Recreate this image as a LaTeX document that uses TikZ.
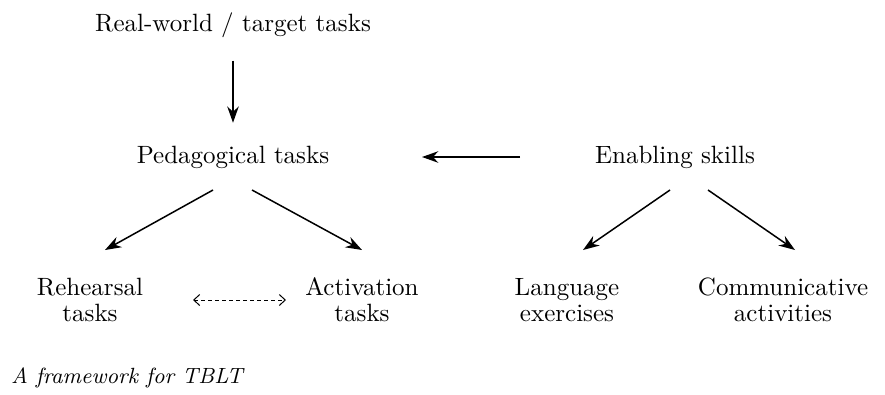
\documentclass[tikz,border=0pt]{standalone}
\usetikzlibrary{arrows.meta,calc,positioning}

\begin{document}
\begin{tikzpicture}[x=0.4pt,y=-0.4pt,
    every node/.style={font=\fontsize{10}{10.5}\selectfont, align=center, inner sep=1pt},
    link/.style={line width=0.6pt, -{Stealth[length=6.5pt,width=4.6pt]}},
    pairlink/.style={line width=0.4pt, dash pattern=on 1.6pt off 1.2pt,
      {Straight Barb[length=2.4pt,width=4.4pt]}-{Straight Barb[length=2.4pt,width=4.4pt]}}]
      \useasboundingbox (0,0) rectangle (885,394);

      % Nodes
      \node (real) at (233,25) {Real-world / target tasks};
      \node (ped) at (233,157) {Pedagogical tasks};
      \node (enab) at (675,157) {Enabling skills};
      \node (reh) at (90,300) {Rehearsal\\tasks};
      \node (act) at (362,300) {Activation\\tasks};
      \node (lang) at (567,300) {Language\\exercises};
      \node (comm) at (783,300) {Communicative\\activities};

      % Arrow ends
      \coordinate (p1) at (213,190);
      \coordinate (p2) at (252,190);
      \coordinate (r1) at (105,250);
      \coordinate (a1) at (362,250);
      \coordinate (e1) at (670,190);
      \coordinate (e2) at (708,190);
      \coordinate (l1) at (583,250);
      \coordinate (c1) at (795,250);
      \coordinate (eL) at (520,157);
      \coordinate (pR) at (422,157);
      \coordinate (d1) at (193,300);
      \coordinate (d2) at (286,300);

      % Arrows
      \draw[link] (real.south) ++(0,20) -- ($(ped.north)+(0,-20)$);
      \draw[link] (eL) -- (pR);
      \foreach \from/\to in {p1/r1, p2/a1, e1/l1, e2/c1} {
        \draw[link] (\from) -- (\to);
      }
      \draw[pairlink] (d1) -- (d2);

      % Caption
      \node[right, font=\fontsize{8.8}{10}\selectfont\itshape] (cap) at (8,378) {A framework for TBLT};
    \end{tikzpicture}
\end{document}
